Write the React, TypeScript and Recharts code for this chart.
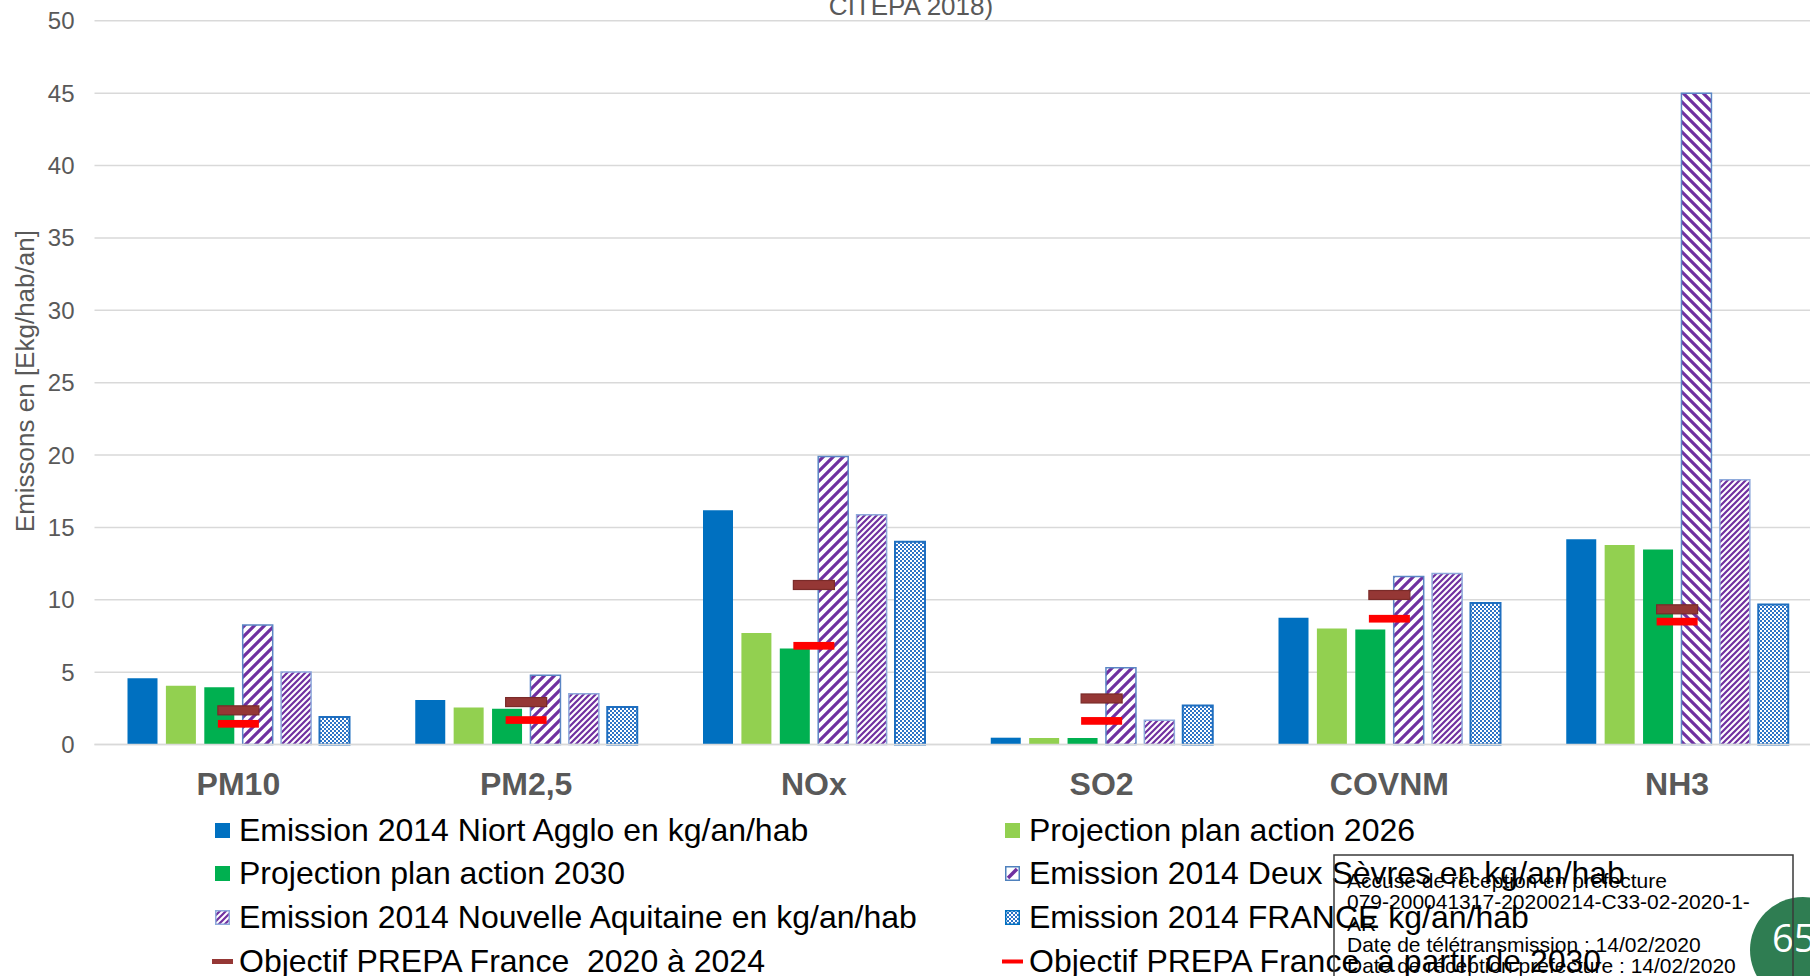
import {
  ComposedChart,
  Bar,
  Line,
  XAxis,
  YAxis,
  CartesianGrid,
  Legend,
  Cell,
  Label,
} from "recharts";

const FONT = '"Liberation Sans", Arial, sans-serif';
const GREY = "#595959";

const categories = ["PM10", "PM2,5", "NOx", "SO2", "COVNM", "NH3"];
const niortAgglo2014 = [4.57, 3.07, 16.18, 0.47, 8.76, 14.18];
const projection2026 = [4.06, 2.56, 7.7, 0.45, 8.02, 13.79];
const projection2030 = [3.95, 2.47, 6.64, 0.45, 7.95, 13.47];
const deuxSevres2014 = [8.26, 4.78, 19.89, 5.3, 11.6, 45.0];
const nouvelleAquitaine2014 = [5.01, 3.5, 15.88, 1.68, 11.81, 18.3];
const france2014 = [1.9, 2.59, 14.01, 2.7, 9.78, 9.67];
const prepa2020 = [2.36, 2.93, 11.02, 3.18, 10.33, 9.34];
const prepa2030 = [1.43, 1.69, 6.82, 1.63, 8.69, 8.49];

const seriesNames = [
  "Emission 2014 Niort Agglo en kg/an/hab",
  "Projection plan action 2026",
  "Projection plan action 2030",
  "Emission 2014 Deux Sèvres en kg/an/hab",
  "Emission 2014 Nouvelle Aquitaine en kg/an/hab",
  "Emission 2014 FRANCE kg/an/hab",
  "Objectif PREPA France  2020 à 2024",
  "Objectif PREPA France  à partir de 2030",
];

const yTicks = [0, 5, 10, 15, 20, 25, 30, 35, 40, 45, 50];

const stampLines = [
  "Accusé de réception en préfecture",
  "079-200041317-20200214-C33-02-2020-1-",
  "AR",
  "Date de télétransmission : 14/02/2020",
  "Date de réception préfecture : 14/02/2020",
];

const data = categories.map((name, i) => ({
  name,
  niort: niortAgglo2014[i],
  p2026: projection2026[i],
  p2030: projection2030[i],
  deuxSevres: deuxSevres2014[i],
  nouvelleAquitaine: nouvelleAquitaine2014[i],
  france: france2014[i],
  prepa2020: prepa2020[i],
  prepa2030: prepa2030[i],
}));

function Patterns() {
  return (
    <defs>
      <pattern id="dsUp" patternUnits="userSpaceOnUse" width="10" height="10">
        <rect width="10" height="10" fill="#fff" />
        <path d="M-2,2 l4,-4 M0,10 l10,-10 M8,12 l4,-4" stroke="#7030A0" strokeWidth="3.2" />
      </pattern>
      <pattern id="dsDown" patternUnits="userSpaceOnUse" width="10" height="10">
        <rect width="10" height="10" fill="#fff" />
        <path d="M-2,8 l4,4 M0,0 l10,10 M8,-2 l4,4" stroke="#7030A0" strokeWidth="3.2" />
      </pattern>
      <pattern id="naUp" patternUnits="userSpaceOnUse" width="6" height="6">
        <rect width="6" height="6" fill="#fff" />
        <path d="M-2,2 l4,-4 M0,6 l6,-6 M4,8 l4,-4" stroke="#7030A0" strokeWidth="2.2" />
      </pattern>
      <pattern id="frCheck" patternUnits="userSpaceOnUse" width="4" height="4">
        <rect width="4" height="4" fill="#fff" />
        <rect x="0" y="0" width="2" height="2" fill="#2E74C6" />
        <rect x="2" y="2" width="2" height="2" fill="#2E74C6" />
      </pattern>
    </defs>
  );
}

function dash(fill: string, stroke: string, h: number) {
  return (props: any) => {
    const { cx, cy, index } = props;
    if (cx == null || cy == null) return <g key={`e-${index}`} />;
    return (
      <rect
        key={`d-${index}`}
        x={cx - 20.5}
        y={cy - h / 2}
        width={41}
        height={h}
        fill={fill}
        stroke={stroke}
        strokeWidth={stroke === "none" ? 0 : 1.2}
      />
    );
  };
}

function Swatch({ kind }: { kind: number }) {
  let inner;
  if (kind === 0) inner = <rect x="0" y="0" width="15" height="15" fill="#0070C0" />;
  else if (kind === 1) inner = <rect x="0" y="0" width="15" height="15" fill="#92D050" />;
  else if (kind === 2) inner = <rect x="0" y="0" width="15" height="15" fill="#00B050" />;
  else if (kind === 3)
    inner = (
      <g>
        <rect x="0.75" y="0.75" width="13.5" height="13.5" fill="#fff" stroke="#4F81BD" strokeWidth="1.5" />
        <path d="M3,12 L12,3" stroke="#7030A0" strokeWidth="3.5" />
      </g>
    );
  else if (kind === 4)
    inner = <rect x="0.75" y="0.75" width="13.5" height="13.5" fill="url(#naUp)" stroke="#8EA9DB" strokeWidth="1.5" />;
  else if (kind === 5)
    inner = <rect x="0.75" y="0.75" width="13.5" height="13.5" fill="url(#frCheck)" stroke="#0070C0" strokeWidth="1.5" />;
  else if (kind === 6) inner = <rect x="-3" y="5" width="21" height="5" fill="#953735" />;
  else inner = <rect x="-3" y="5.5" width="21" height="4" fill="#FF0000" />;
  return (
    <svg width={15} height={15} style={{ overflow: "visible", marginRight: 9, flex: "none" }}>
      {inner}
    </svg>
  );
}

function LegendContent() {
  return (
    <div style={{ position: "relative", width: 1810, height: 176, fontFamily: FONT, fontSize: 32, color: "#000" }}>
      {seriesNames.map((label, i) => {
        const col = i % 2;
        const row = Math.floor(i / 2);
        return (
          <div
            key={label}
            style={{
              position: "absolute",
              left: col === 0 ? 215 : 1005,
              top: row * 43.7,
              height: 44,
              display: "flex",
              alignItems: "center",
              whiteSpace: "pre",
            }}
          >
            <Swatch kind={i} />
            <span>{label}</span>
          </div>
        );
      })}
    </div>
  );
}

function YTitle(props: any) {
  const vb = props.viewBox || { x: 14.5, y: 20.8, width: 80, height: 723.7 };
  const x = vb.x + 11;
  const y = vb.y + vb.height / 2 - 1.5;
  return (
    <text
      x={x}
      y={y}
      transform={`rotate(-90, ${x}, ${y})`}
      textAnchor="middle"
      dominantBaseline="central"
      fontSize={26}
      fontFamily={FONT}
      fill={GREY}
    >
      Emissons en [Ekg/hab/an]
    </text>
  );
}

export default function App() {
  return (
    <div
      style={{
        position: "fixed",
        left: 0,
        top: 0,
        width: 1810,
        height: 976,
        overflow: "hidden",
        background: "#fff",
        fontFamily: FONT,
      }}
    >
      <ComposedChart
        width={1821}
        height={976}
        data={data}
        margin={{ top: 20.8, right: 0, bottom: 171.5, left: 14.5 }}
        barSize={30}
        barGap={8.4}
      >
        <Patterns />
        <CartesianGrid vertical={false} stroke="#D9D9D9" strokeWidth={1.5} />
        <XAxis
          dataKey="name"
          height={60}
          axisLine={{ stroke: "#D9D9D9", strokeWidth: 1.5 }}
          tickLine={false}
          tickSize={0}
          tickMargin={28}
          tick={{ fontSize: 32, fontWeight: 700, fill: GREY, fontFamily: FONT }}
          interval={0}
        />
        <YAxis
          width={80}
          domain={[0, 50]}
          ticks={yTicks}
          interval={0}
          axisLine={false}
          tickLine={false}
          tickMargin={14}
          tick={{ fontSize: 24, fill: GREY, fontFamily: FONT }}
          label={<Label content={YTitle} />}
        />
        <Legend
          layout="horizontal"
          verticalAlign="middle"
          align="center"
          wrapperStyle={{ left: 0, top: 808, width: 1810, height: 176 }}
          content={() => <LegendContent />}
        />
        <Bar dataKey="niort" name={seriesNames[0]} fill="#0070C0" isAnimationActive={false} />
        <Bar dataKey="p2026" name={seriesNames[1]} fill="#92D050" isAnimationActive={false} />
        <Bar dataKey="p2030" name={seriesNames[2]} fill="#00B050" isAnimationActive={false} />
        <Bar
          dataKey="deuxSevres"
          name={seriesNames[3]}
          fill="url(#dsUp)"
          stroke="#5B86C5"
          strokeWidth={1.5}
          isAnimationActive={false}
        >
          {data.map((d, i) => (
            <Cell key={d.name} fill={i === data.length - 1 ? "url(#dsDown)" : "url(#dsUp)"} />
          ))}
        </Bar>
        <Bar
          dataKey="nouvelleAquitaine"
          name={seriesNames[4]}
          fill="url(#naUp)"
          stroke="#8EA9DB"
          strokeWidth={1.5}
          isAnimationActive={false}
        />
        <Bar
          dataKey="france"
          name={seriesNames[5]}
          fill="url(#frCheck)"
          stroke="#1F6FC0"
          strokeWidth={2}
          isAnimationActive={false}
        />
        <Line
          dataKey="prepa2020"
          name={seriesNames[6]}
          stroke="none"
          dot={dash("#953735", "#7A2B29", 9)}
          activeDot={false}
          legendType="none"
          isAnimationActive={false}
        />
        <Line
          dataKey="prepa2030"
          name={seriesNames[7]}
          stroke="none"
          dot={dash("#FF0000", "none", 7.7)}
          activeDot={false}
          legendType="none"
          isAnimationActive={false}
        />
      </ComposedChart>

      <svg
        width={1810}
        height={976}
        style={{ position: "absolute", left: 0, top: 0, pointerEvents: "none" }}
      >
        <text x={911} y={15} textAnchor="middle" fontSize={26} fontFamily={FONT} fill={GREY}>
          CITEPA 2018)
        </text>
        <circle cx={1803} cy={950} r={53} fill="#2F7D52" />
        <text x={1772} y={952} fontSize={38} fontFamily='"Open Sans", sans-serif' fill="#fff">
          65
        </text>
        <rect x={1334} y={855} width={459} height={160} fill="none" stroke="#3A3A3A" strokeWidth={1.5} />
        {stampLines.map((line, i) => (
          <text key={line} x={1347} y={888 + i * 21.3} fontSize={21} fontFamily={FONT} fill="#000">
            {line}
          </text>
        ))}
      </svg>
    </div>
  );
}
